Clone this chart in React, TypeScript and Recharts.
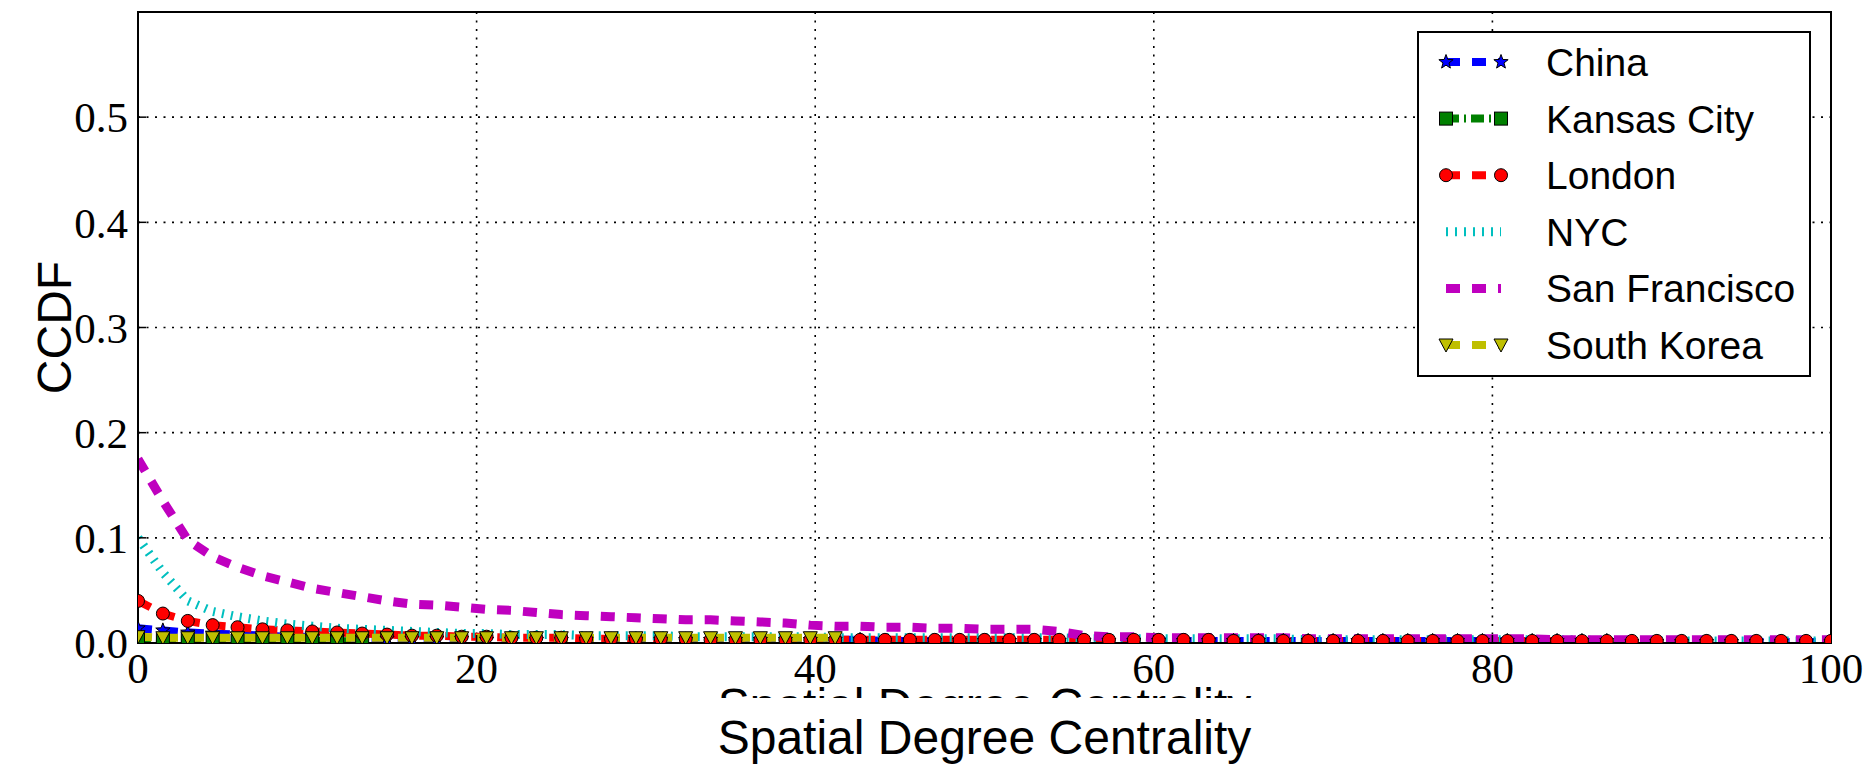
import React from 'react';
import { LineChart, Line, XAxis, YAxis, CartesianGrid, ReferenceArea } from 'recharts';

// spatial degree values (x) and the CCDF of each city (y)
const DEGREE = [
  0, 1.47, 2.94, 4.41, 5.88, 7.35, 8.82, 10.29, 11.76, 13.24,
  14.71, 16.18, 17.65, 19.12, 20.59, 22.06, 23.53, 25, 26.47, 27.94,
  29.41, 30.88, 32.35, 33.82, 35.29, 36.76, 38.24, 39.71, 41.18, 42.65,
  44.12, 45.59, 47.06, 48.53, 50, 51.47, 52.94, 54.41, 55.88, 57.35,
  58.82, 60.29, 61.76, 63.24, 64.71, 66.18, 67.65, 69.12, 70.59, 72.06,
  73.53, 75, 76.47, 77.94, 79.41, 80.88, 82.35, 83.82, 85.29, 86.76,
  88.24, 89.71, 91.18, 92.65, 94.12, 95.59, 97.06, 98.53, 100,
];

const CHINA = [
  0.014, 0.012, 0.010, 0.009, 0.008, 0.007, 0.006, 0.006, 0.005, 0.005,
  0.004, 0.004, 0.004, 0.004, 0.003, 0.003, 0.003, 0.003, 0.003, 0.003,
  0.003, 0.003, 0.003, 0.003, 0.003, 0.003, 0.003, 0.003, 0.003, 0.003,
  0.002, 0.002, 0.002, 0.002, 0.002, 0.002, 0.002, 0.002, 0.002, 0.002,
  0.002, 0.002, 0.002, 0.002, 0.002, 0.002, 0.002, 0.002, 0.002, 0.002,
  0.002, 0.002, 0.002, 0.002, 0.002, 0.002, 0.002, 0.002, 0.002, 0.002,
  0.001, 0.001, 0.001, 0.001, 0.001, 0.001, 0.001, 0.001, 0.001,
];

const KANSAS_CITY = [0.004, 0.003, 0.003, 0.003, 0.002, 0.002, 0.002, 0.002, 0.002, 0.001];

const LONDON = [
  0.040, 0.028, 0.021, 0.017, 0.015, 0.013, 0.012, 0.011, 0.010, 0.009,
  0.008, 0.007, 0.007, 0.006, 0.006, 0.005, 0.005, 0.005, 0.004, 0.004,
  0.004, 0.004, 0.004, 0.003, 0.003, 0.003, 0.003, 0.003, 0.003, 0.003,
  0.003, 0.003, 0.003, 0.003, 0.003, 0.003, 0.003, 0.003, 0.003, 0.003,
  0.003, 0.003, 0.003, 0.003, 0.002, 0.002, 0.002, 0.002, 0.002, 0.002,
  0.002, 0.002, 0.002, 0.002, 0.002, 0.002, 0.002, 0.002, 0.002, 0.002,
  0.002, 0.002, 0.002, 0.002, 0.002, 0.002, 0.002, 0.002, 0.002,
];

const NYC = [
  0.100, 0.067, 0.040, 0.030, 0.025, 0.021, 0.018, 0.016, 0.014, 0.013,
  0.012, 0.011, 0.010, 0.009, 0.009, 0.008, 0.008, 0.008, 0.007, 0.007,
  0.007, 0.007, 0.006, 0.006, 0.006, 0.006, 0.006, 0.006, 0.005, 0.005,
  0.005, 0.005, 0.005, 0.005, 0.005, 0.005, 0.005, 0.005, 0.004, 0.004,
  0.004, 0.004, 0.004, 0.004, 0.004, 0.004, 0.004, 0.003, 0.003, 0.003,
  0.003, 0.003, 0.003, 0.003, 0.003, 0.003, 0.003, 0.003, 0.003, 0.002,
  0.002, 0.002, 0.002, 0.002, 0.002, 0.002, 0.002, 0.002, 0.002,
];

const SAN_FRANCISCO = [
  0.175, 0.135, 0.098, 0.082, 0.072, 0.064, 0.058, 0.052, 0.048, 0.044,
  0.040, 0.037, 0.036, 0.034, 0.032, 0.031, 0.029, 0.027, 0.026, 0.025,
  0.024, 0.023, 0.022, 0.022, 0.021, 0.020, 0.019, 0.017, 0.016, 0.016,
  0.015, 0.015, 0.014, 0.014, 0.013, 0.013, 0.013, 0.011, 0.007, 0.006,
  0.006, 0.005, 0.005, 0.005, 0.005, 0.005, 0.005, 0.004, 0.004, 0.004,
  0.004, 0.004, 0.004, 0.004, 0.004, 0.004, 0.004, 0.003, 0.003, 0.003,
  0.003, 0.003, 0.003, 0.003, 0.003, 0.003, 0.003, 0.003, 0.003,
];

const SOUTH_KOREA = [
  0.006, 0.005, 0.005, 0.005, 0.005, 0.005, 0.005, 0.005, 0.005, 0.005,
  0.005, 0.005, 0.005, 0.005, 0.005, 0.005, 0.005, 0.005, 0.005, 0.005,
  0.005, 0.005, 0.005, 0.005, 0.005, 0.005, 0.005, 0.005, 0.005,
];

const X_TICKS = [0, 20, 40, 60, 80, 100];
const Y_TICKS = [0, 0.1, 0.2, 0.3, 0.4, 0.5];

const SERIES = [
  { key: 'china', name: 'China', values: CHINA, color: '#0000ff', dash: '14 12', width: 8, marker: 'star' },
  { key: 'kansas', name: 'Kansas City', values: KANSAS_CITY, color: '#008000', dash: '13 5 2 5', width: 8, marker: 'square' },
  { key: 'london', name: 'London', values: LONDON, color: '#ff0000', dash: '14 12', width: 8, marker: 'circle' },
  { key: 'nyc', name: 'NYC', values: NYC, color: '#00bfbf', dash: '2 7', width: 9, marker: null },
  { key: 'sf', name: 'San Francisco', values: SAN_FRANCISCO, color: '#bf00bf', dash: '14 12', width: 9, marker: null },
  { key: 'korea', name: 'South Korea', values: SOUTH_KOREA, color: '#bfbf00', dash: '14 12', width: 8, marker: 'triangle' },
];

const data = DEGREE.map((x, i) => {
  const row: Record<string, number | null> = { x };
  SERIES.forEach(s => {
    row[s.key] = i < s.values.length ? s.values[i] : null;
  });
  return row;
});

const SERIF = '"Liberation Serif", "Times New Roman", serif';
const SANS = '"Liberation Sans", Arial, sans-serif';

const starPoints = (x: number, y: number, r: number) => {
  const pts: string[] = [];
  for (let i = 0; i < 10; i++) {
    const rad = i % 2 === 0 ? r : r * 0.42;
    const a = -Math.PI / 2 + (i * Math.PI) / 5;
    pts.push(`${x + rad * Math.cos(a)},${y + rad * Math.sin(a)}`);
  }
  return pts.join(' ');
};

const Marker = ({ kind, x, y, color }: { kind: string; x: number; y: number; color: string }) => {
  const common = { fill: color, stroke: '#000', strokeWidth: 1 };
  if (kind === 'circle') return <circle cx={x} cy={y} r={6.5} {...common} />;
  if (kind === 'square') return <rect x={x - 6.5} y={y - 6.5} width={13} height={13} {...common} />;
  if (kind === 'triangle')
    return <polygon points={`${x - 7},${y - 6} ${x + 7},${y - 6} ${x},${y + 7}`} {...common} />;
  return <polygon points={starPoints(x, y, 7.5)} {...common} />;
};

const dotFor = (kind: string, color: string, dataKey: string) => (props: any) => {
  const { cx, cy, index, payload } = props;
  if (cx == null || cy == null || isNaN(cy) || payload?.[dataKey] == null) return <g key={`d-${index}`} />;
  return <Marker key={`d-${index}`} kind={kind} x={cx} y={cy} color={color} />;
};

const XLabel = (props: any) => {
  const vb = props.viewBox || { x: 130, y: 635, width: 1693, height: 60 };
  const cx = vb.x + vb.width / 2;
  return (
    <g>
      <defs>
        <clipPath id="ghost-clip">
          <rect x={vb.x - 100} y={vb.y + 40} width={vb.width + 200} height={15} />
        </clipPath>
      </defs>
      {/* half hidden copy of the axis title, as in the source figure */}
      <text x={cx} y={vb.y + 79} textAnchor="middle" fontFamily={SANS} fontSize={48} fill="#000" clipPath="url(#ghost-clip)">
        Spatial Degree Centrality
      </text>
      <text x={cx} y={vb.y + 111} textAnchor="middle" fontFamily={SANS} fontSize={48} fill="#000">
        Spatial Degree Centrality
      </text>
    </g>
  );
};

const YLabel = (props: any) => {
  const vb = props.viewBox || { x: 10, y: 4, width: 120, height: 631 };
  const x = vb.x + 53;
  const y = vb.y + vb.height / 2;
  return (
    <text x={x} y={y} transform={`rotate(-90, ${x}, ${y})`} textAnchor="middle" fontFamily={SANS} fontSize={48} fill="#000">
      CCDF
    </text>
  );
};

const LegendBox = () => (
  <div
    style={{
      position: 'absolute',
      left: 1409,
      top: 23,
      width: 394,
      height: 346,
      boxSizing: 'border-box',
      border: '2px solid #000',
      background: '#fff',
    }}
  >
    <svg width={390} height={342} style={{ display: 'block' }}>
      {SERIES.map((s, i) => {
        const y = 29 + i * 56.6;
        return (
          <g key={s.key}>
            <line x1={27} x2={82} y1={y} y2={y} stroke={s.color} strokeWidth={s.width} strokeDasharray={s.dash} />
            {s.marker && <Marker kind={s.marker} x={27} y={y} color={s.color} />}
            {s.marker && <Marker kind={s.marker} x={82} y={y} color={s.color} />}
            <text x={127} y={y + 14} fontFamily={SANS} fontSize={39} fill="#000">
              {s.name}
            </text>
          </g>
        );
      })}
    </svg>
  </div>
);

const axisLine = { stroke: '#000', strokeWidth: 2 };
const tickLine = { stroke: '#000', strokeWidth: 1.5 };
const tickText = { fontFamily: SERIF, fontSize: 43, fill: '#000' };

export default function App() {
  return (
    <div style={{ position: 'relative', width: 1855, height: 761 }}>
      <LineChart width={1855} height={761} data={data} margin={{ top: 4, right: 32, bottom: 66, left: 10 }}>
        <CartesianGrid stroke="#000" strokeWidth={1.6} strokeDasharray="2 6.5" />
        <XAxis
          dataKey="x"
          type="number"
          domain={[0, 100]}
          ticks={X_TICKS}
          interval={0}
          allowDataOverflow
          height={60}
          tickSize={-8}
          tickMargin={17}
          axisLine={axisLine}
          tickLine={tickLine}
          tick={tickText}
          label={XLabel}
        />
        <XAxis
          xAxisId="top"
          orientation="top"
          dataKey="x"
          type="number"
          domain={[0, 100]}
          ticks={X_TICKS}
          interval={0}
          allowDataOverflow
          mirror
          height={0}
          tickSize={8}
          axisLine={axisLine}
          tickLine={tickLine}
          tick={() => <g />}
        />
        <YAxis
          type="number"
          domain={[0, 0.6]}
          ticks={Y_TICKS}
          interval={0}
          allowDataOverflow
          width={120}
          tickSize={-8}
          tickMargin={18}
          tickFormatter={(v: number) => v.toFixed(1)}
          axisLine={axisLine}
          tickLine={tickLine}
          tick={tickText}
          label={YLabel}
        />
        <YAxis
          yAxisId="right"
          orientation="right"
          type="number"
          domain={[0, 0.6]}
          ticks={Y_TICKS}
          interval={0}
          allowDataOverflow
          mirror
          width={0}
          tickSize={8}
          axisLine={axisLine}
          tickLine={tickLine}
          tick={() => <g />}
        />
        {/* plot frame */}
        <ReferenceArea x1={0} x2={100} y1={0} y2={0.6} fill="none" stroke="#000" strokeWidth={2} />
        {/* invisible series so the top / right axes get drawn */}
        <Line
          xAxisId="top"
          yAxisId="right"
          dataKey="sf"
          stroke="none"
          dot={false}
          activeDot={false}
          legendType="none"
          isAnimationActive={false}
        />
        {SERIES.map(s => (
          <Line
            key={s.key}
            type="linear"
            dataKey={s.key}
            name={s.name}
            stroke={s.color}
            strokeWidth={s.width}
            strokeDasharray={s.dash}
            dot={s.marker ? dotFor(s.marker, s.color, s.key) : false}
            activeDot={false}
            connectNulls={false}
            isAnimationActive={false}
          />
        ))}
      </LineChart>
      <LegendBox />
    </div>
  );
}
